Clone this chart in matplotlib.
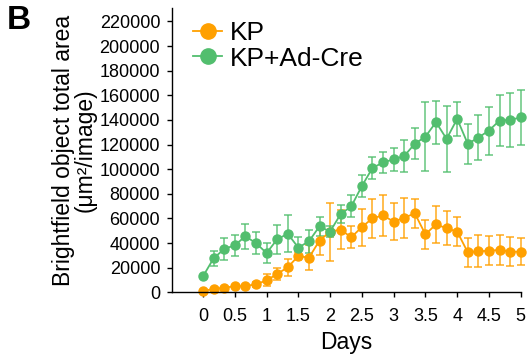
import numpy as np
import matplotlib
matplotlib.use("Agg")
import matplotlib.pyplot as plt
from matplotlib.lines import Line2D

plt.rcParams['font.family'] = ['Liberation Sans', 'DejaVu Sans']

# time points (days), every 4 h
days = np.arange(31) / 6.0

kp_mean = [1100, 2700, 3800, 4900, 5100, 6500, 9700, 14900, 20300, 29500,
           28100, 42000, 49300, 50900, 44700, 53000, 60100, 62500, 57400, 60600,
           64100, 47100, 55200, 52000, 49300, 32500, 33300, 33800, 34400, 33000,
           33000]
kp_err = [600, 800, 900, 1000, 1100, 1800, 4800, 5000, 6800, 3000,
          10000, 12000, 23500, 16000, 9000, 15000, 15700, 16400, 15000, 16400,
          11600, 11800, 15300, 13700, 12000, 11800, 13000, 12000, 12300, 12000,
          11000]

cre_mean = [13000, 27600, 35200, 38200, 45500, 40000, 31900, 43000, 47600, 36300,
            41400, 53600, 49300, 63600, 69800, 86300, 101000, 105500, 108000, 110700,
            120700, 126400, 138200, 124600, 140900, 120600, 125700, 131400, 139500, 140100,
            142000]
cre_err = [1000, 6000, 9000, 8400, 10000, 9200, 8400, 11800, 15000, 8700,
           9300, 7600, 4700, 7400, 9000, 9000, 9300, 8800, 9500, 13300,
           12400, 28000, 17500, 27000, 14000, 16000, 18000, 19500, 20500, 22000,
           22000]

labels = ['KP', 'KP+Ad-Cre']
orange = '#FFA000'
green = '#52BE6E'

fig = plt.figure(figsize=(5.32, 3.6), dpi=100)
ax = fig.add_axes([0.3233, 0.188, 0.6555, 0.79])

handles = []
for mean, err, col, lab in [(kp_mean, kp_err, orange, labels[0]),
                            (cre_mean, cre_err, green, labels[1])]:
    eb = ax.errorbar(days, mean, yerr=err, color=col, ecolor=col, elinewidth=1.3,
                     capsize=2.6, capthick=1.3, lw=1.3, marker='o', ms=6.5,
                     mec=col, mfc=col, clip_on=False)
    for c in list(eb[1]) + list(eb[2]):
        c.set_alpha(0.75)
        c.set_clip_on(False)
    handles.append(Line2D([], [], color=col, lw=1.3, marker='o', ms=11,
                          mec=col, mfc=col, label=lab))

ax.set_xlim(-0.488, 5.0)
ax.set_ylim(0, 231000)
ax.set_xticks(np.arange(0, 5.01, 0.5))
ax.set_xticklabels(['0', '0.5', '1', '1.5', '2', '2.5', '3', '3.5', '4', '4.5', '5'])
ax.set_yticks(np.arange(0, 220001, 20000))
ax.set_yticklabels([str(v) for v in range(0, 220001, 20000)])
ax.tick_params(axis='both', labelsize=13, length=3.5, width=1, direction='out')
ax.tick_params(axis='y', pad=5)
ax.tick_params(axis='x', pad=8)
for s in ['top', 'right']:
    ax.spines[s].set_visible(False)
for s in ['left', 'bottom']:
    ax.spines[s].set_linewidth(1)

ax.set_xlabel('Days', fontsize=16.5, labelpad=4)
ax.set_ylabel('Brightfield object total area\n(\u03bcm\u00b2/image)', fontsize=16.5,
              labelpad=2, linespacing=0.95)

ax.legend(handles=handles, loc='upper left', bbox_to_anchor=(0.03, 0.99), frameon=False,
          fontsize=19, handlelength=1.1, handletextpad=0.3, labelspacing=0.05,
          borderaxespad=0)

fig.text(0.012, 0.985, 'B', fontsize=24, fontweight='bold', va='top', ha='left')

fig.savefig('out.png', dpi=100)
